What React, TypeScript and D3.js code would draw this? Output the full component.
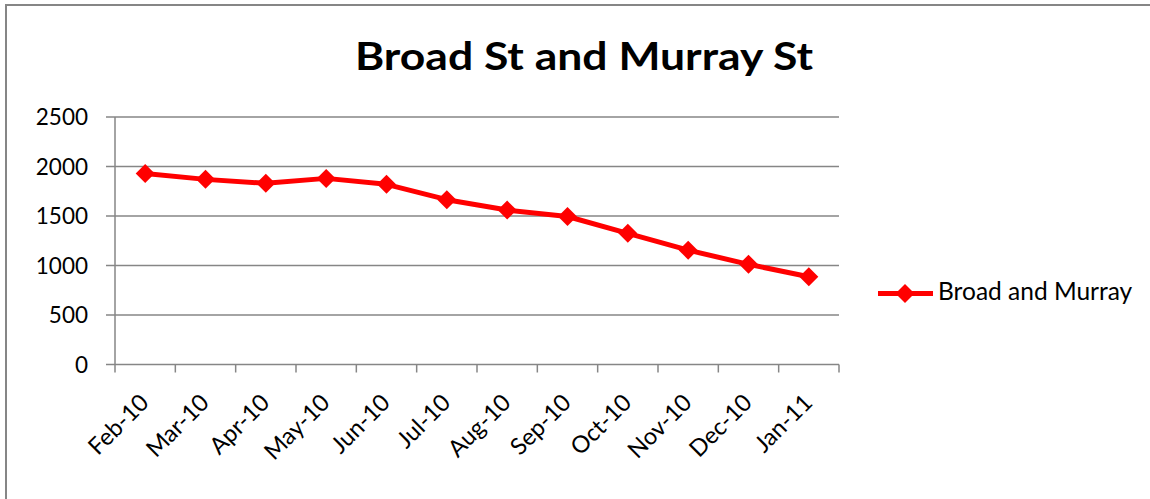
import React from "react";
import * as d3 from "d3";

const categories = ["Feb-10","Mar-10","Apr-10","May-10","Jun-10","Jul-10","Aug-10","Sep-10","Oct-10","Nov-10","Dec-10","Jan-11"];
const values = [1930, 1870, 1830, 1880, 1820, 1665, 1560, 1495, 1325, 1155, 1012, 887];
const yTicks = [0, 500, 1000, 1500, 2000, 2500];
const seriesName = "Broad and Murray";
const title = "Broad St and Murray St";

const FONT = "Lato, 'Open Sans', sans-serif";
const GRID = "#868686";
const RED = "#ff0000";

export default function App() {
  const left = 115, right = 839, top = 117, bottom = 364.5;
  const x = d3.scaleBand<string>().domain(categories).range([left, right]);
  const y = d3.scaleLinear().domain([0, 2500]).range([bottom, top]);
  const line = d3.line<number>()
    .x((_, i) => (x(categories[i]) as number) + x.bandwidth() / 2)
    .y((d) => y(d));
  const diamond = (cx: number, cy: number, r: number) =>
    `M${cx},${cy - r}L${cx + r},${cy}L${cx},${cy + r}L${cx - r},${cy}Z`;
  const bounds = [...categories.map((c) => x(c) as number), right];

  return (
    <svg width={1150} height={499} style={{ position: "absolute", left: 0, top: 0 }} xmlns="http://www.w3.org/2000/svg">
      <rect x={0} y={0} width={1150} height={499} fill="#fff" />
      <rect x={6} y={5} width={1200} height={600} fill="none" stroke={GRID} strokeWidth={2} />
      <text x={584} y={70} textAnchor="middle" fontFamily={FONT} fontWeight="bold" fontSize={39} textLength={458} lengthAdjust="spacingAndGlyphs" fill="#000">{title}</text>
      {yTicks.map((t) => (
        <g key={t}>
          <line x1={106} x2={right} y1={y(t)} y2={y(t)} stroke={GRID} strokeWidth={1.5} />
          <text x={88} y={y(t) + 8} textAnchor="end" fontFamily={FONT} fontSize={22.5} fill="#000">{t}</text>
        </g>
      ))}
      <line x1={left} x2={left} y1={top} y2={bottom} stroke={GRID} strokeWidth={1.5} />
      {bounds.map((b, i) => (
        <line key={i} x1={b} x2={b} y1={bottom} y2={bottom + 8} stroke={GRID} strokeWidth={1.5} />
      ))}
      {categories.map((c) => {
        const cx = (x(c) as number) + x.bandwidth() / 2;
        return (
          <text key={c} transform={`translate(${cx + 5},${404}) rotate(-45)`} textAnchor="end" fontFamily={FONT} fontSize={23.5} fill="#000">{c}</text>
        );
      })}
      <path d={line(values) || ""} fill="none" stroke={RED} strokeWidth={5} strokeLinejoin="round" />
      {values.map((v, i) => (
        <path key={i} d={diamond((x(categories[i]) as number) + x.bandwidth() / 2, y(v), 9.5)} fill={RED} />
      ))}
      <line x1={878} x2={933} y1={293.5} y2={293.5} stroke={RED} strokeWidth={5} />
      <path d={diamond(905, 293.5, 9.5)} fill={RED} />
      <text x={938} y={300} fontFamily={FONT} fontSize={24.5} fill="#000">{seriesName}</text>
    </svg>
  );
}
